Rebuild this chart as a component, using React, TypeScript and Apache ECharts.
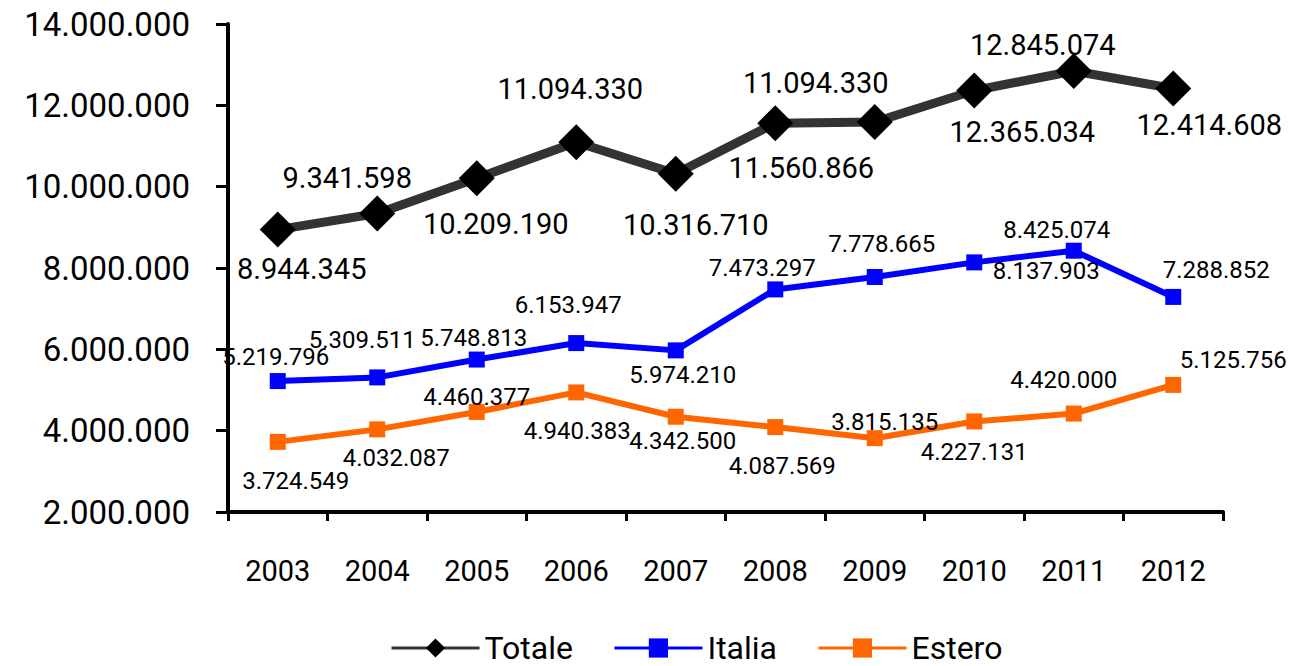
import React, { useEffect, useRef } from "react";
import * as echarts from "echarts";

const years = ["2003", "2004", "2005", "2006", "2007", "2008", "2009", "2010", "2011", "2012"];

const totale = [8944345, 9341598, 10209190, 11094330, 10316710, 11560866, 11590000, 12365034, 12845074, 12414608];
const totaleLabels = ["8.944.345", "9.341.598", "10.209.190", "11.094.330", "10.316.710", "11.560.866", "11.094.330", "12.365.034", "12.845.074", "12.414.608"];
const italia = [5219796, 5309511, 5748813, 6153947, 5974210, 7473297, 7778665, 8137903, 8425074, 7288852];
const estero = [3724549, 4032087, 4460377, 4940383, 4342500, 4087569, 3815135, 4227131, 4420000, 5125756];

const yTicks = { min: 2000000, max: 14000000, interval: 2000000 };

// label placement offsets (px) relative to each point
const totaleOffsets = [[24, 39], [-30, -35], [19, 46], [-6, -53], [20, 51], [26, 45], [-59, -39], [48, 42], [-31, -26], [36, 37]];
const italiaOffsets = [[-2, -24], [-15, -37], [-3, -22], [-8, -38], [7, 25], [-13, -21], [7, -33], [72, 9], [-17, -21], [43, -27]];
const esteroOffsets = [[18, 39], [19, 29], [0, -15], [1, 39], [7, 24], [7, 39], [10, -16], [0, 31], [-10, -34], [60, -25]];

const fmt = (v: number) => String(v).replace(/\B(?=(\d{3})+(?!\d))/g, ".");
const FONT = "Roboto";

function build(values: number[], offsets: number[][], texts: string[] | null, size: number) {
  return values.map((v, i) => ({
    value: v,
    label: {
      show: true,
      position: "inside",
      offset: offsets[i],
      formatter: texts ? texts[i] : fmt(v),
      color: "#000",
      fontSize: size,
      fontFamily: FONT,
      align: "center",
      verticalAlign: "middle",
    },
  }));
}

export default function App() {
  const ref = useRef<HTMLDivElement>(null);
  useEffect(() => {
    if (!ref.current) return;
    const chart = echarts.init(ref.current, undefined, { renderer: "svg" });
    chart.setOption({
      animation: false,
      backgroundColor: "#fff",
      grid: { left: 228, right: 68, top: 24, bottom: 154, containLabel: false },
      legend: {
        left: 390,
        top: 632,
        padding: 0,
        itemWidth: 88,
        itemHeight: 24,
        itemGap: 40,
        textStyle: { fontSize: 32, fontFamily: FONT, color: "#000" },
        lineStyle: { width: 3 },
        data: ["Totale", "Italia", "Estero"],
      },
      xAxis: {
        type: "category",
        data: years,
        boundaryGap: true,
        axisLine: { show: true, lineStyle: { color: "#000", width: 4 } },
        axisTick: { show: true, alignWithLabel: false, length: 9, lineStyle: { color: "#000", width: 3 } },
        axisLabel: { fontSize: 29, fontFamily: FONT, color: "#000", margin: 44 },
        splitLine: { show: false },
      },
      yAxis: {
        type: "value",
        min: yTicks.min,
        max: yTicks.max,
        interval: yTicks.interval,
        axisLine: { show: true, lineStyle: { color: "#000", width: 4 } },
        axisTick: { show: true, length: 12, lineStyle: { color: "#000", width: 3 } },
        axisLabel: { fontSize: 33, fontFamily: FONT, color: "#000", margin: 38, formatter: (v: number) => fmt(v) },
        splitLine: { show: false },
      },
      series: [
        {
          name: "Totale",
          type: "line",
          data: build(totale, totaleOffsets, totaleLabels, 29),
          symbol: "diamond",
          symbolSize: 36,
          lineStyle: { color: "#333333", width: 9 },
          itemStyle: { color: "#000" },
          z: 3,
        },
        {
          name: "Italia",
          type: "line",
          data: build(italia, italiaOffsets, null, 24),
          symbol: "rect",
          symbolSize: 16,
          lineStyle: { color: "#0000FF", width: 6 },
          itemStyle: { color: "#0000FF" },
          z: 2,
        },
        {
          name: "Estero",
          type: "line",
          data: build(estero, esteroOffsets, null, 24),
          symbol: "rect",
          symbolSize: 16,
          lineStyle: { color: "#FF6600", width: 6 },
          itemStyle: { color: "#FF6600" },
          z: 1,
        },
      ],
    });
    return () => chart.dispose();
  }, []);
  return (
    <div
      ref={ref}
      style={{ position: "absolute", left: 0, top: 0, width: 1291, height: 666, background: "#fff" }}
    />
  );
}
